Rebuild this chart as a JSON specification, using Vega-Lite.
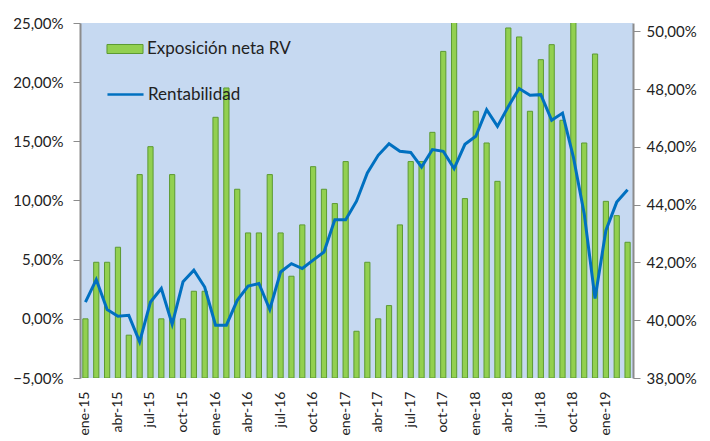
{
  "$schema": "https://vega.github.io/schema/vega-lite/v6.json",
  "width": 553,
  "height": 355,
  "autosize": {"type": "none"},
  "padding": {"left": 80, "top": 23, "right": 77, "bottom": 63},
  "background": "white",
  "config": {
    "locale": {"number": {"decimal": ",", "thousands": ".", "grouping": [3], "currency": ["", " €"]}},
    "view": {"fill": "#C6D9F1", "stroke": null},
    "font": "Lato",
    "axis": {"labelFont": "Lato", "labelFontSize": 15, "labelColor": "#222222", "domainColor": "#8C8C8C", "tickColor": "#8C8C8C", "grid": false, "title": null},
    "legend": {"labelFont": "Lato", "labelFontSize": 17, "labelColor": "#222222", "labelOffset": 3, "title": null, "symbolSize": 1300, "orient": "none"}
  },
  "data": {"values": [
    {"mes": "ene-15", "expo": 0.000, "rent": 0.4063},
    {"mes": "feb-15", "expo": 0.0478, "rent": 0.4141},
    {"mes": "mar-15", "expo": 0.0478, "rent": 0.4037},
    {"mes": "abr-15", "expo": 0.0605, "rent": 0.4014},
    {"mes": "may-15", "expo": -0.0138, "rent": 0.4017},
    {"mes": "jun-15", "expo": 0.1219, "rent": 0.3925},
    {"mes": "jul-15", "expo": 0.1455, "rent": 0.4063},
    {"mes": "ago-15", "expo": 0.000, "rent": 0.4110},
    {"mes": "sep-15", "expo": 0.1219, "rent": 0.3986},
    {"mes": "oct-15", "expo": 0.000, "rent": 0.4133},
    {"mes": "nov-15", "expo": 0.0233, "rent": 0.4173},
    {"mes": "dic-15", "expo": 0.0233, "rent": 0.4115},
    {"mes": "ene-16", "expo": 0.1703, "rent": 0.3983},
    {"mes": "feb-16", "expo": 0.1951, "rent": 0.3983},
    {"mes": "mar-16", "expo": 0.1095, "rent": 0.4069},
    {"mes": "abr-16", "expo": 0.0726, "rent": 0.4118},
    {"mes": "may-16", "expo": 0.0726, "rent": 0.4127},
    {"mes": "jun-16", "expo": 0.1219, "rent": 0.4037},
    {"mes": "jul-16", "expo": 0.0726, "rent": 0.4167},
    {"mes": "ago-16", "expo": 0.0360, "rent": 0.4196},
    {"mes": "sep-16", "expo": 0.0794, "rent": 0.4179},
    {"mes": "oct-16", "expo": 0.1286, "rent": 0.4208},
    {"mes": "nov-16", "expo": 0.1095, "rent": 0.4236},
    {"mes": "dic-16", "expo": 0.0974, "rent": 0.4348},
    {"mes": "ene-17", "expo": 0.1329, "rent": 0.4348},
    {"mes": "feb-17", "expo": -0.0105, "rent": 0.4412},
    {"mes": "mar-17", "expo": 0.0478, "rent": 0.4510},
    {"mes": "abr-17", "expo": 0.000, "rent": 0.4571},
    {"mes": "may-17", "expo": 0.0112, "rent": 0.4611},
    {"mes": "jun-17", "expo": 0.0794, "rent": 0.4585},
    {"mes": "jul-17", "expo": 0.1329, "rent": 0.4581},
    {"mes": "ago-17", "expo": 0.1329, "rent": 0.4530},
    {"mes": "sep-17", "expo": 0.1576, "rent": 0.4591},
    {"mes": "oct-17", "expo": 0.2260, "rent": 0.4585},
    {"mes": "nov-17", "expo": 0.2550, "rent": 0.4525},
    {"mes": "dic-17", "expo": 0.1016, "rent": 0.4609},
    {"mes": "ene-18", "expo": 0.1754, "rent": 0.4637},
    {"mes": "feb-18", "expo": 0.1486, "rent": 0.4729},
    {"mes": "mar-18", "expo": 0.1162, "rent": 0.4671},
    {"mes": "abr-18", "expo": 0.2458, "rent": 0.4740},
    {"mes": "may-18", "expo": 0.2382, "rent": 0.4802},
    {"mes": "jun-18", "expo": 0.1754, "rent": 0.4779},
    {"mes": "jul-18", "expo": 0.2190, "rent": 0.4781},
    {"mes": "ago-18", "expo": 0.2317, "rent": 0.4692},
    {"mes": "sep-18", "expo": 0.1678, "rent": 0.4717},
    {"mes": "oct-18", "expo": 0.2550, "rent": 0.4565},
    {"mes": "nov-18", "expo": 0.1486, "rent": 0.4369},
    {"mes": "dic-18", "expo": 0.2238, "rent": 0.4075},
    {"mes": "ene-19", "expo": 0.0993, "rent": 0.4311},
    {"mes": "feb-19", "expo": 0.0872, "rent": 0.4409},
    {"mes": "mar-19", "expo": 0.0647, "rent": 0.4452}
  ]},
  "encoding": {
    "x": {
      "field": "mes", "type": "nominal", "sort": null,
      "scale": {"paddingInner": 0.52, "paddingOuter": 0.26},
      "axis": {
        "values": ["ene-15","abr-15","jul-15","oct-15","ene-16","abr-16","jul-16","oct-16","ene-17","abr-17","jul-17","oct-17","ene-18","abr-18","jul-18","oct-18","ene-19"],
        "labelAngle": -90, "labelAlign": "right", "labelBaseline": "middle",
        "domain": false, "ticks": false, "labelPadding": 13, "labelFontSize": 14
      }
    }
  },
  "layer": [
    {
      "mark": {"type": "bar", "clip": true, "stroke": "#5C9A32", "strokeWidth": 1},
      "encoding": {
        "y": {"field": "expo", "type": "quantitative",
          "scale": {"domain": [-0.05, 0.25], "nice": false, "zero": false},
          "axis": {"orient": "left", "format": ".2%", "values": [-0.05, 0, 0.05, 0.1, 0.15, 0.2, 0.25], "tickSize": 7, "labelPadding": 10, "domainWidth": 2}},
        "y2": {"datum": -0.05},
        "fill": {"datum": "Exposición neta RV", "type": "nominal",
          "scale": {"range": ["#92D050"]},
          "legend": {"legendX": 26, "legendY": 7, "symbolType": "M-1,-0.25H1V0.25H-1Z", "symbolStrokeColor": "#5C9A32", "symbolStrokeWidth": 1, "symbolOpacity": 1}
        }
      }
    },
    {
      "mark": {"type": "rule", "color": "#8C8C8C", "strokeWidth": 1.5},
      "encoding": {"y": {"datum": 0, "type": "quantitative", "scale": {"domain": [-0.05, 0.25], "nice": false, "zero": false}, "axis": null}}
    },
    {
      "mark": {"type": "line", "strokeWidth": 3},
      "encoding": {
        "y": {"field": "rent", "type": "quantitative",
          "scale": {"domain": [0.38, 0.5029], "nice": false, "zero": false},
          "axis": {"orient": "right", "format": ".2%", "values": [0.38, 0.4, 0.42, 0.44, 0.46, 0.48, 0.5], "tickSize": 7, "labelPadding": 6, "domainWidth": 2}},
        "stroke": {"datum": "Rentabilidad", "type": "nominal",
          "scale": {"range": ["#0070C0"]},
          "legend": {"legendX": 26, "legendY": 52, "symbolType": "M-1,0H1", "symbolStrokeWidth": 2.5}
        }
      }
    }
  ],
  "resolve": {"scale": {"y": "independent"}}
}
